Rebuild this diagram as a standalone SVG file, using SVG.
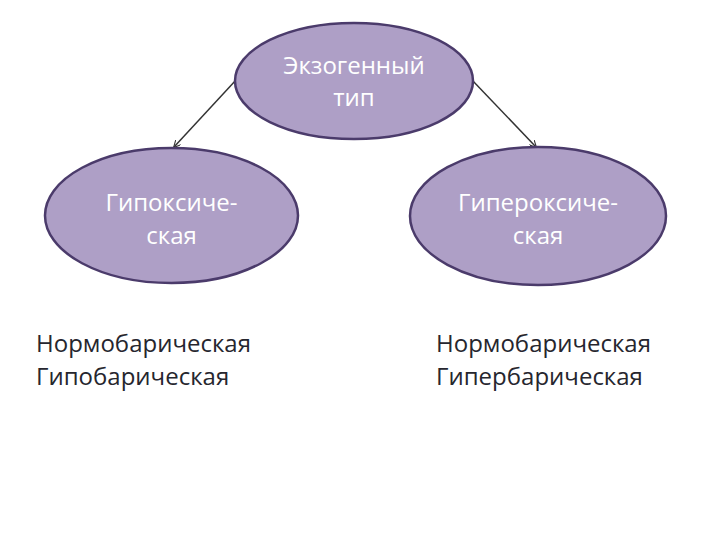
<svg xmlns="http://www.w3.org/2000/svg" width="720" height="540" viewBox="0 0 720 540">
<style>
.node{fill:#ae9fc6;stroke:#4b3b6b;stroke-width:2.5}
.lbl{fill:#ffffff;font-family:"Open Sans","DejaVu Sans",sans-serif;font-size:24px;text-anchor:middle}
.plain{fill:#26262e;font-family:"Open Sans","DejaVu Sans",sans-serif;font-size:24px}
.conn{stroke:#333333;stroke-width:1.5;fill:none}
</style>
<defs>
<marker id="ah" viewBox="0 0 10 10" refX="9" refY="5" markerWidth="7" markerHeight="7" orient="auto" markerUnits="userSpaceOnUse">
<path d="M0,0 L10,5 L0,10" fill="none" stroke="#333333" stroke-width="1.5"/>
</marker>
</defs>
<rect width="720" height="540" fill="#ffffff"/>
<g id="connectors">
<line class="conn" x1="236" y1="80" x2="174" y2="147" marker-end="url(#ah)"/>
<line class="conn" x1="472" y1="80" x2="536" y2="147" marker-end="url(#ah)"/>
</g>
<g id="exogenous">
<ellipse class="node" cx="354" cy="81" rx="119" ry="58"/>
<text class="lbl" x="354" y="74">Экзогенный</text>
<text class="lbl" x="354" y="106">тип</text>
</g>
<g id="hypoxic">
<ellipse class="node" cx="171.5" cy="215.5" rx="126.5" ry="67.5"/>
<text class="lbl" x="171.5" y="211">Гипоксиче-</text>
<text class="lbl" x="171.5" y="244">ская</text>
</g>
<g id="hyperoxic">
<ellipse class="node" cx="538" cy="216" rx="128" ry="69"/>
<text class="lbl" x="538" y="211">Гипероксиче-</text>
<text class="lbl" x="538" y="244">ская</text>
</g>
<g id="left-list">
<text class="plain" x="36" y="352">Нормобарическая</text>
<text class="plain" x="36" y="385">Гипобарическая</text>
</g>
<g id="right-list">
<text class="plain" x="436" y="352">Нормобарическая</text>
<text class="plain" x="436" y="385">Гипербарическая</text>
</g>
</svg>
